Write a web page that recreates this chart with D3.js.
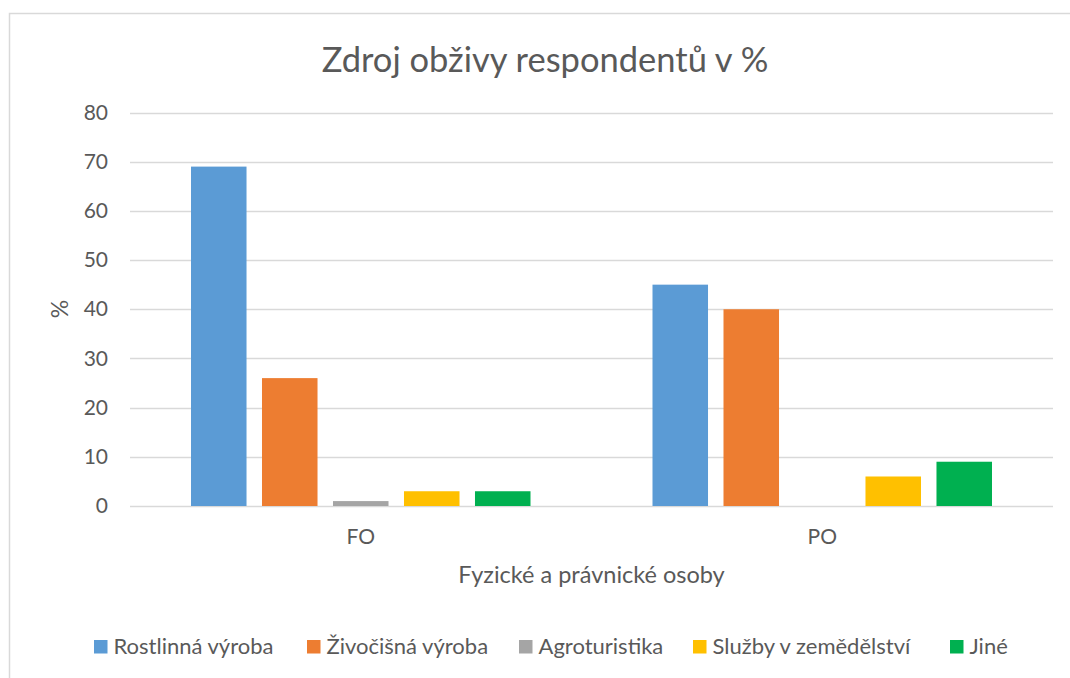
<!DOCTYPE html>
<html>
<head>
<meta charset="utf-8">
<script src="https://cdn.jsdelivr.net/npm/d3@7"></script>
<style>
  body { margin: 0; background: #fff; }
  text { font-family: Lato, "Open Sans", sans-serif; fill: #595959; }
</style>
</head>
<body>
<svg id="chart" width="1070" height="678"></svg>
<script>
// data
var categories = ['FO', 'PO'];
var seriesNames = ['Rostlinná výroba', 'Živočišná výroba', 'Agroturistika', 'Služby v zemědělství', 'Jiné'];
var seriesColors = ['#5b9bd5', '#ed7d31', '#a5a5a5', '#ffc000', '#00b050'];
var valuesFO = [69, 26, 1, 3, 3];
var valuesPO = [45, 40, 0, 6, 9];
var yTicks = [0, 10, 20, 30, 40, 50, 60, 70, 80];

var rows = categories.map(function(c, i) {
    return { cat: c, values: i === 0 ? valuesFO : valuesPO };
});

var svg = d3.select('#chart');

// outer frame (runs off the right/bottom edge like the reference)
svg.append('rect')
   .attr('x', 9.5)
   .attr('y', 13.5)
   .attr('width', 1100)
   .attr('height', 700)
   .attr('fill', 'none')
   .attr('stroke', '#d9d9d9')
   .attr('stroke-width', 1.5);

var plotLeft = 130, plotRight = 1053, plotTop = 112.5, plotBottom = 506;

var x = d3.scaleBand()
    .domain(categories)
    .range([plotLeft, plotRight]);

var xInner = d3.scaleBand()
    .domain(d3.range(seriesNames.length))
    .range([61, x.bandwidth() - 61])
    .paddingInner(0.218);

var y = d3.scaleLinear()
    .domain([0, 80])
    .range([plotBottom, plotTop]);

// grid lines
svg.append('g')
   .selectAll('line')
   .data(yTicks)
   .enter()
   .append('line')
   .attr('x1', plotLeft)
   .attr('x2', plotRight)
   .attr('y1', function(d) { return Math.round(y(d)) + 0.5; })
   .attr('y2', function(d) { return Math.round(y(d)) + 0.5; })
   .attr('stroke', '#d9d9d9')
   .attr('stroke-width', 1.3);

// y axis labels
var yAxis = d3.axisLeft(y).tickValues(yTicks).tickSize(0).tickPadding(0);
var yg = svg.append('g')
   .attr('transform', 'translate(' + 108 + ',0)')
   .call(yAxis);
yg.select('.domain').remove();
yg.selectAll('text')
  .style('font-size', '21px')
  .style('font-family', 'Lato, sans-serif')
  .attr('fill', '#595959');

// bars
var groups = svg.selectAll('.cat')
   .data(rows)
   .enter()
   .append('g')
   .attr('class', 'cat')
   .attr('transform', function(d) { return 'translate(' + x(d.cat) + ',0)'; });

groups.selectAll('rect')
   .data(function(d) { return d.values; })
   .enter()
   .append('rect')
   .attr('x', function(v, i) { return xInner(i); })
   .attr('width', xInner.bandwidth())
   .attr('y', function(v) { return y(v); })
   .attr('height', function(v) { return y(0) - y(v); })
   .attr('fill', function(v, i) { return seriesColors[i]; });

// x axis labels
var xAxis = d3.axisBottom(x).tickSize(0).tickPadding(0);
var xg = svg.append('g')
   .attr('transform', 'translate(0,' + 529 + ')')
   .call(xAxis);
xg.select('.domain').remove();
xg.selectAll('text')
  .style('font-size', '21px')
  .style('font-family', 'Lato, sans-serif')
  .attr('fill', '#595959');

// title
svg.append('text')
   .attr('x', 545)
   .attr('y', 72)
   .attr('text-anchor', 'middle')
   .style('font-size', '34.5px')
   .text('Zdroj obživy respondentů v %');

// axis titles
svg.append('text')
   .attr('x', (plotLeft + plotRight) / 2)
   .attr('y', 583)
   .attr('text-anchor', 'middle')
   .style('font-size', '23.5px')
   .text('Fyzické a právnické osoby');

svg.append('text')
   .attr('transform', 'translate(68,309) rotate(-90)')
   .attr('text-anchor', 'middle')
   .style('font-size', '23px')
   .text('%');

// legend
var legendX = [94, 307, 519, 693, 950];
var legend = svg.selectAll('.legend')
   .data(seriesNames)
   .enter()
   .append('g')
   .attr('class', 'legend')
   .attr('transform', function(d, i) { return 'translate(' + legendX[i] + ',640)'; });

legend.append('rect')
   .attr('width', 13.5)
   .attr('height', 13.5)
   .attr('fill', function(d, i) { return seriesColors[i]; });

legend.append('text')
   .attr('x', 19.5)
   .attr('y', 14)
   .style('font-size', '22px')
   .text(function(d) { return d; });
</script>
</body>
</html>
